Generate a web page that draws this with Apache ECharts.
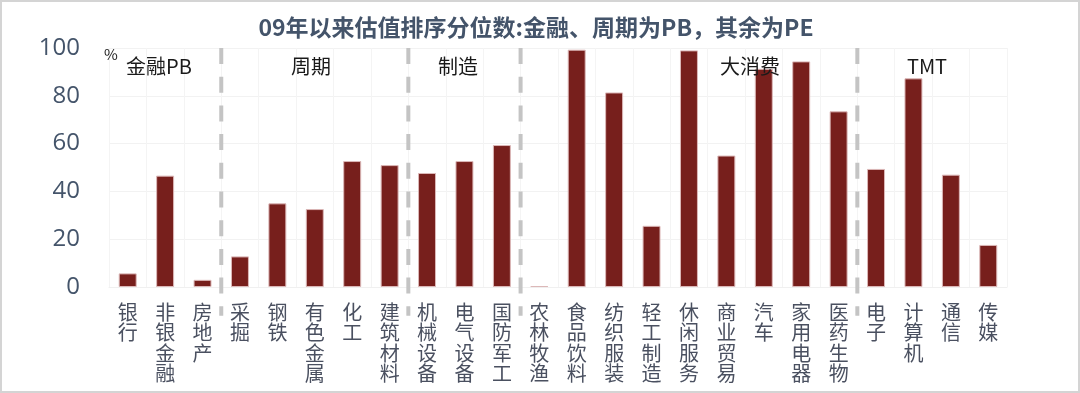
<!DOCTYPE html>
<html><head><meta charset="utf-8">
<script src="https://cdn.jsdelivr.net/npm/echarts@6/dist/echarts.min.js"></script>
<style>html,body{margin:0;padding:0;background:#fff}#c{width:1080px;height:393px}</style>
</head><body><div id="c"></div>
<script>
const categories = ['银行','非银金融','房地产','采掘','钢铁','有色金属','化工','建筑材料','机械设备','电气设备','国防军工','农林牧渔','食品饮料','纺织服装','轻工制造','休闲服务','商业贸易','汽车','家用电器','医药生物','电子','计算机','通信','传媒'];
const values = [5.7,46.6,3.0,12.8,35.0,32.6,52.7,51.0,47.7,52.7,59.4,0.4,99.3,81.4,25.6,99.0,55.0,91.3,94.4,73.5,49.4,87.3,47.0,17.6];
const groupBoundaries = [3,8,11,20];
const groupLabels = ['金融PB','周期','制造','大消费','TMT'];
const groupLabelX = [159,311,458,750,927];
const yTicks = [0,20,40,60,80,100];

const chart = echarts.init(document.getElementById('c'), null, {renderer:'canvas'});
const FONT = '"Noto Sans CJK SC","Noto Sans",sans-serif';
const gridBox = {left:109, right:73, top:48, bottom:106};

const graphics = [{type:'rect', shape:{x:1,y:1,width:1078,height:391}, style:{fill:'none', stroke:'#d4d4d4', lineWidth:2}, silent:true}];
groupLabels.forEach((t,i)=>{
  graphics.push({type:'text', x:groupLabelX[i], y:66, style:{text:t, font:'20px '+FONT, fill:'#1a1a1a', textAlign:'center', textVerticalAlign:'middle'}, z:10});
});
graphics.push({type:'text', x:111, y:54, style:{text:'%', font:'15px '+FONT, fill:'#1a1a1a', textAlign:'center', textVerticalAlign:'middle'}, z:10});

chart.setOption({
  backgroundColor:'#fff',
  animation:false,
  title:{text:'09年以来估值排序分位数:金融、周期为PB，其余为PE', left:531, textAlign:'center', top:11,
    textStyle:{fontFamily:FONT, fontSize:23, fontWeight:'bold', color:'#44546a'}},
  grid:gridBox,
  xAxis:[{
    type:'category', data:categories,
    axisLine:{show:true, lineStyle:{color:'#f0f0f0'}}, axisTick:{show:false},
    splitLine:{show:true, lineStyle:{color:'#f4f4f4', width:1}},
    axisLabel:{interval:0, margin:15, fontFamily:FONT, fontSize:20, lineHeight:20.5, color:'#4a5060', verticalAlign:'top',
      formatter:v=>v.split('').join('\n')}
  },{
    type:'value', min:0, max:24, show:false
  }],
  yAxis:{
    type:'value', min:0, max:100, interval:20,
    axisLine:{show:false}, axisTick:{show:false},
    splitLine:{lineStyle:{color:'#f2f2f2'}},
    axisLabel:{margin:29, fontFamily:'"Open Sans","Noto Sans",sans-serif', fontSize:24, color:'#44546a'}
  },
  series:[{
    type:'bar', data:values, barWidth:'48%', xAxisIndex:0,
    itemStyle:{color:'#771f1c', borderColor:'#dcb8b8', borderWidth:1}
  },{
    type:'custom', xAxisIndex:1, clip:false, silent:true, z:5,
    data:groupBoundaries.map(b=>[b,100]),
    encode:{x:0,y:1},
    renderItem:(params, api)=>{
      const p1 = api.coord([api.value(0),100]);
      const p2 = api.coord([api.value(0),-12]);
      return {type:'line', shape:{x1:p1[0],y1:p1[1],x2:p2[0],y2:p2[1]},
        style:{stroke:'#c4c4c4', lineWidth:4, lineDash:[16,12.7]}};
    }
  }],
  graphic:graphics
});
</script></body></html>
